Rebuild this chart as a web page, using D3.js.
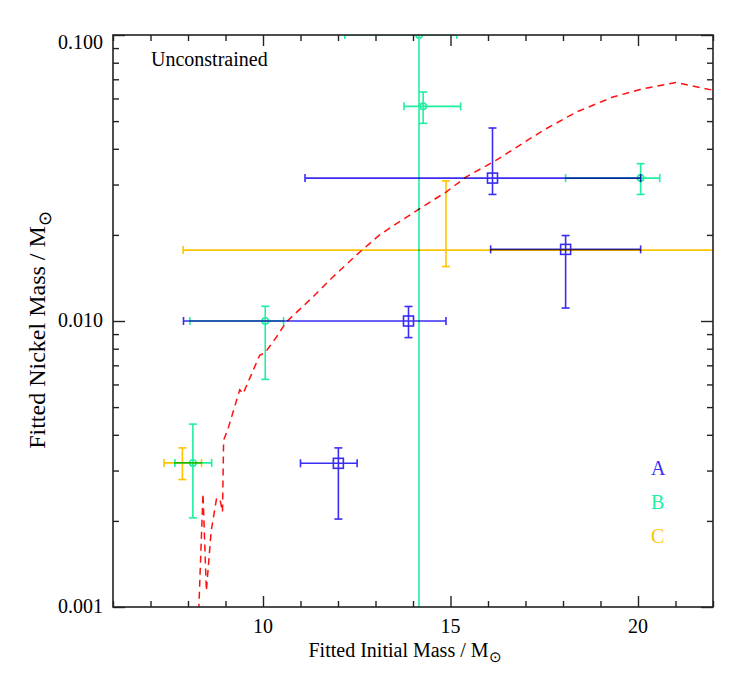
<!DOCTYPE html>
<html>
<head>
<meta charset="utf-8">
<script src="https://cdn.jsdelivr.net/npm/d3@7"></script>
<style>
  body { margin: 0; background: #fff; }
  svg text { font-family: "Liberation Serif", "Times New Roman", serif; fill: #000; }
</style>
</head>
<body>
<svg id="chart" width="747" height="679"></svg>
<script>
// each row: initial mass, mass low, mass high, nickel mass, nickel low, nickel high
const pointsA = [
  [12.01, 11.00, 12.51, 0.00318, 0.00203, 0.00360],
  [13.88, 7.88, 14.88, 0.0100, 0.00875, 0.01124],
  [16.12, 11.12, 20.07, 0.0316, 0.0277, 0.0473],
  [18.07, 16.07, 20.07, 0.0178, 0.0111, 0.0199]
];
const pointsB = [
  [8.13, 7.65, 8.63, 0.00319, 0.00205, 0.00436],
  [10.06, 8.05, 10.55, 0.0100, 0.00625, 0.01126],
  [14.27, 13.76, 15.27, 0.0563, 0.0491, 0.0632],
  [14.16, 12.18, 15.17, 0.100, 0.0001, 1.0],
  [20.07, 18.07, 20.58, 0.0316, 0.0277, 0.0355]
];
const pointsC = [
  [7.85, 7.36, 8.36, 0.00319, 0.00279, 0.00360],
  [14.88, 7.87, 23.0, 0.0177, 0.0155, 0.0309]
];

// model curve (red dashed)
const modelMass = [8.25, 8.29, 8.40, 8.49, 8.62, 8.76, 8.85, 8.92, 8.95, 9.07, 9.38, 9.47,
  9.91, 10.05, 10.36, 10.62, 11.33, 11.85, 12.49, 13.11, 13.56, 14.18, 14.89, 15.42, 16.22,
  17.47, 18.36, 19.33, 20.13, 21.02, 22.0];
const modelNickel = [0.0008, 0.00100, 0.00249, 0.00114, 0.00185, 0.00239, 0.00239, 0.00215,
  0.00383, 0.00421, 0.00575, 0.00557, 0.00759, 0.00773, 0.00879, 0.00992, 0.01213, 0.0142,
  0.0170, 0.0200, 0.0219, 0.0247, 0.0283, 0.0319, 0.0365, 0.0464, 0.0538, 0.0607, 0.0649,
  0.0682, 0.0641];

const xTicks = [10, 15, 20];
const xTickLabels = ["10", "15", "20"];
const yTicks = [0.001, 0.01, 0.1];
const yTickLabels = ["0.001", "0.010", "0.100"];
const groupNames = ["A", "B", "C"];

const colors = { A: "#3a2cf5", B: "#1ef0a0", C: "#ffc400" };

const svg = d3.select("#chart");
const margin = { top: 35, right: 34, bottom: 72, left: 113 };
const w = 747 - margin.left - margin.right;
const h = 679 - margin.top - margin.bottom;

const plot = svg.append("g").attr("transform", `translate(${margin.left},${margin.top})`);

const x = d3.scaleLinear().domain([6, 22]).range([0, w]);
const y = d3.scaleLog().domain([0.001, 0.1]).range([h, 0]);

plot.append("clipPath").attr("id", "clip")
  .append("rect").attr("width", w).attr("height", h);

const inner = plot.append("g").attr("clip-path", "url(#clip)");

// model line
inner.append("path")
  .datum(modelMass.map((m, i) => [m, modelNickel[i]]))
  .attr("fill", "none")
  .attr("stroke", "#ff1010")
  .attr("stroke-width", 1.5)
  .attr("stroke-dasharray", "7,5")
  .attr("d", d3.line().x(d => x(d[0])).y(d => y(d[1])));

function drawGroup(points, color, marker) {
  const g = inner.append("g").style("mix-blend-mode", "multiply");
  const cap = 4;
  points.forEach(p => {
    const [m, mLo, mHi, n, nLo, nHi] = p;
    const cx = x(m), cy = y(n);
    const seg = (x1, y1, x2, y2) => g.append("line")
      .attr("x1", x1).attr("y1", y1).attr("x2", x2).attr("y2", y2)
      .attr("stroke", color).attr("stroke-width", 1.6);
    seg(x(mLo), cy, x(mHi), cy);
    seg(x(mLo), cy - cap, x(mLo), cy + cap);
    seg(x(mHi), cy - cap, x(mHi), cy + cap);
    seg(cx, y(nLo), cx, y(nHi));
    seg(cx - cap, y(nLo), cx + cap, y(nLo));
    seg(cx - cap, y(nHi), cx + cap, y(nHi));
    if (marker === "square") {
      g.append("rect").attr("x", cx - 5).attr("y", cy - 5)
        .attr("width", 10).attr("height", 10)
        .attr("fill", "none").attr("stroke", color).attr("stroke-width", 1.6);
    } else if (marker === "circle") {
      g.append("circle").attr("cx", cx).attr("cy", cy).attr("r", 3.2)
        .attr("fill", "none").attr("stroke", color).attr("stroke-width", 1.6);
    }
  });
}

drawGroup(pointsC, colors.C, null);
drawGroup(pointsB, colors.B, "circle");
drawGroup(pointsA, colors.A, "square");

// frame and ticks
function tickSet(axisFn, scale, values, size, transform) {
  const g = plot.append("g").attr("transform", transform)
    .call(axisFn(scale).tickValues(values).tickSize(size).tickFormat(""));
  g.select(".domain").remove();
  g.selectAll("line").attr("stroke", "#222").attr("stroke-width", 1.4);
}

const xMinor = x.ticks(16).filter(v => !xTicks.includes(v));
const yMinor = y.ticks().filter(v => !yTicks.some(t => Math.abs(t - v) < 1e-9));

tickSet(d3.axisBottom, x, xTicks, -11, `translate(0,${h})`);
tickSet(d3.axisBottom, x, xMinor, -6, `translate(0,${h})`);
tickSet(d3.axisTop, x, xTicks, -11, "translate(0,0)");
tickSet(d3.axisTop, x, xMinor, -6, "translate(0,0)");
tickSet(d3.axisLeft, y, yTicks, -12, "translate(0,0)");
tickSet(d3.axisLeft, y, yMinor, -6, "translate(0,0)");
tickSet(d3.axisRight, y, yTicks, -12, `translate(${w},0)`);
tickSet(d3.axisRight, y, yMinor, -6, `translate(${w},0)`);

plot.append("rect")
  .attr("width", w).attr("height", h)
  .attr("fill", "none").attr("stroke", "#222").attr("stroke-width", 1.6);

// tick labels
plot.selectAll(".xlab")
  .data(xTicks)
  .join("text")
  .attr("x", d => x(d))
  .attr("y", h + 26)
  .attr("text-anchor", "middle")
  .style("font-size", "20px")
  .text((d, i) => xTickLabels[i]);

plot.selectAll(".ylab")
  .data(yTicks)
  .join("text")
  .attr("x", -10)
  .attr("y", d => y(d) + (d === 0.1 ? 14 : 6))
  .attr("text-anchor", "end")
  .style("font-size", "20px")
  .text((d, i) => yTickLabels[i]);

// axis titles
const xTitle = svg.append("text")
  .attr("x", margin.left + w / 2 - 8)
  .attr("y", 657)
  .attr("text-anchor", "middle")
  .style("font-size", "20px");
xTitle.append("tspan").text("Fitted Initial Mass / M");
xTitle.append("tspan").attr("dy", 5).style("font-size", "15px").text("\u2299");

const yTitle = svg.append("text")
  .attr("transform", "translate(45,330) rotate(-90)")
  .attr("text-anchor", "middle")
  .style("font-size", "24px");
yTitle.append("tspan").text("Fitted Nickel Mass / M");
yTitle.append("tspan").attr("dy", 6).style("font-size", "18px").text("\u2299");

// annotation and legend
svg.append("text")
  .attr("x", 151)
  .attr("y", 66)
  .style("font-size", "20px")
  .text("Unconstrained");

svg.selectAll(".legend")
  .data(groupNames)
  .join("text")
  .attr("x", 651)
  .attr("y", (d, i) => 475 + i * 34)
  .style("font-size", "20px")
  .style("fill", d => colors[d])
  .text(d => d);
</script>
</body>
</html>
